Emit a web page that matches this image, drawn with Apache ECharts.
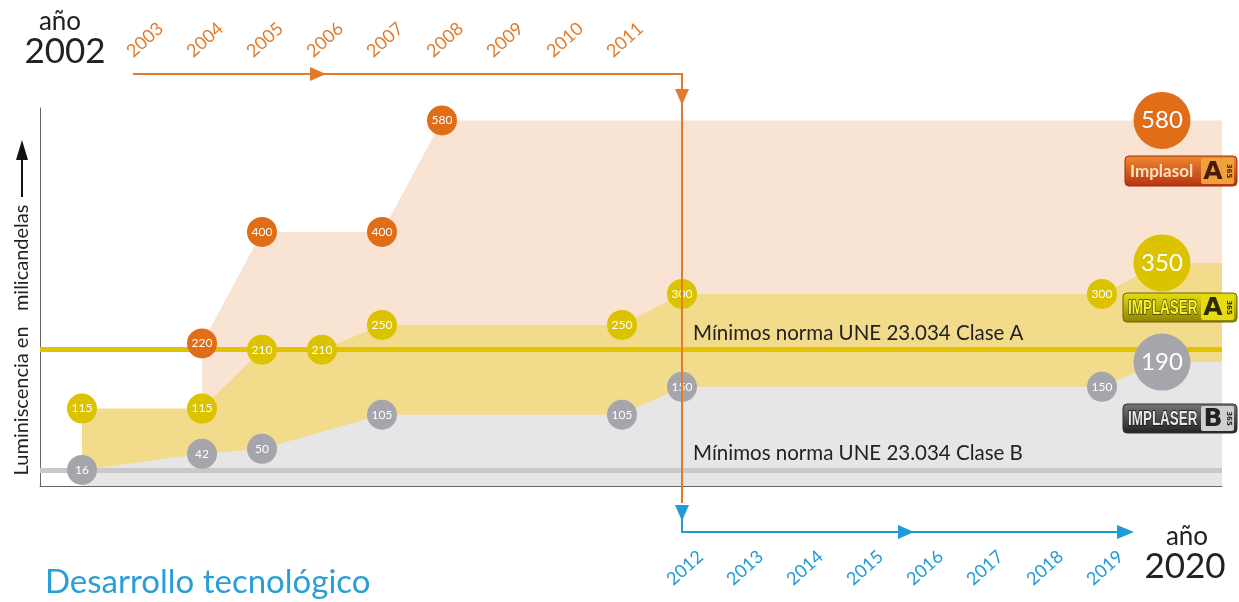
<!DOCTYPE html>
<html><head><meta charset="utf-8">
<script src="https://cdn.jsdelivr.net/npm/echarts@6/dist/echarts.min.js"></script>
<style>html,body{margin:0;padding:0;background:#fff}#c{width:1239px;height:602px}</style>
</head><body><div id="c"></div>
<script>
// ---- data ----
const topYearLabels = [2003, 2004, 2005, 2006, 2007, 2008, 2009, 2010, 2011];
const bottomYearLabels = [2012, 2013, 2014, 2015, 2016, 2017, 2018, 2019];
const startYear = 2002, endYear = 2020, turnYear = 2012;

const implasolYears = [2004, 2005, 2007, 2008, 2020];
const implasolValues = [220, 400, 400, 580, 580];

const implaserAYears = [2002, 2004, 2005, 2006, 2007, 2011, 2012, 2019, 2020];
const implaserAValues = [115, 115, 210, 210, 250, 250, 300, 300, 350];

const implaserBYears = [2002, 2004, 2005, 2007, 2011, 2012, 2019, 2020];
const implaserBValues = [16, 42, 50, 105, 105, 150, 150, 190];

const normA = 210, normB = 15;
const normALabel = 'Mínimos norma UNE 23.034 Clase A';
const normBLabel = 'Mínimos norma UNE 23.034 Clase B';
const yTitle = 'Luminiscencia en   milicandelas';
const footTitle = 'Desarrollo tecnológico';

// ---- axes ----
const X_MIN = 2001.3, X_MAX = 2021, Y_MIN = -10, Y_MAX = 600;
const FONT = 'Lato, "Noto Sans", sans-serif';
const C = {
  orange: '#e06d18', yellow: '#dcc300', gray: '#a5a5ab',
  peach: '#f9e3d3', yellowArea: '#f2db8b', grayArea: '#e6e6e6',
  lineA: '#e2c300', lineB: '#c9c9c9', axis: '#666', arrowO: '#e27b2c', arrowB: '#1f9bd7'
};

function areaData(years, vals) {
  const d = years.map((y, i) => [y, vals[i]]);
  d.push([X_MAX, vals[vals.length - 1]]);
  return d;
}
function bubbleData(years, vals) {
  return years.map((y, i) => {
    const big = y === endYear;
    return {
      value: [y, vals[i]],
      symbolSize: big ? 57 : 30,
      label: { fontSize: big ? 24 : 12 }
    };
  });
}
function areaSeries(years, vals, color, z) {
  return {
    type: 'line', data: areaData(years, vals), showSymbol: false, symbol: 'none',
    lineStyle: { width: 0 }, areaStyle: { color: color, opacity: 1, origin: 'start' },
    z: z, silent: true, animation: false
  };
}
function bubbleSeries(years, vals, color) {
  return {
    type: 'scatter', data: bubbleData(years, vals), z: 6, animation: false,
    itemStyle: { color: color, opacity: 1 },
    label: { show: true, position: 'inside', color: '#fff', fontFamily: FONT,
      formatter: p => String(p.value[1]) }
  };
}

const chart = echarts.init(document.getElementById('c'), null, { renderer: 'canvas' });
chart.setOption({
  animation: false,
  grid: { left: 40, right: 17, top: 108, bottom: 116, containLabel: false },
  xAxis: {
    type: 'value', min: X_MIN, max: X_MAX, position: 'bottom',
    axisLine: { show: true, onZero: false, lineStyle: { color: C.axis, width: 1 } },
    axisTick: { show: false }, splitLine: { show: false }, axisLabel: { show: false }
  },
  yAxis: {
    type: 'value', min: Y_MIN, max: Y_MAX,
    axisLine: { show: true, lineStyle: { color: C.axis, width: 1 } },
    axisTick: { show: false }, axisLabel: { show: false }, splitLine: { show: false }
  },
  series: [
    areaSeries(implasolYears, implasolValues, C.peach, 1),
    areaSeries(implaserAYears, implaserAValues, C.yellowArea, 2),
    Object.assign(areaSeries(implaserBYears, implaserBValues, C.grayArea, 3), {
      markLine: {
        silent: true, symbol: ['none', 'none'], z: 4, animation: false,
        label: { show: false },
        data: [
          { yAxis: normA, lineStyle: { color: C.lineA, width: 5, type: 'solid' } },
          { yAxis: normB, lineStyle: { color: C.lineB, width: 5, type: 'solid' } }
        ]
      }
    }),
    bubbleSeries(implaserBYears, implaserBValues, C.gray),
    bubbleSeries(implaserAYears, implaserAValues, C.yellow),
    bubbleSeries(implasolYears, implasolValues, C.orange)
  ]
});

// ---- decorations ----
const px = y => chart.convertToPixel({ xAxisIndex: 0 }, y);
const xv = Math.round(px(turnYear));
const yA = chart.convertToPixel({ yAxisIndex: 0 }, normA);
const yB = chart.convertToPixel({ yAxisIndex: 0 }, normB);
const yTop = 74, yBot = 532;
const ZZ = 50;

function tri(cx, cy, dir, len, half, color) {
  let pts;
  if (dir === 'right') pts = [[cx - len, cy - half], [cx, cy], [cx - len, cy + half]];
  else pts = [[cx - half, cy - len], [cx, cy], [cx + half, cy - len]];
  return { type: 'polygon', shape: { points: pts }, style: { fill: color }, z: ZZ };
}
function txt(x, y, text, size, color, align, extra) {
  return { type: 'text', x: x, y: y, z: ZZ,
    style: Object.assign({ text: text, fontSize: size, fill: color, fontFamily: FONT,
      align: align || 'center', verticalAlign: 'middle' }, extra || {}) };
}
function yearLabel(year, y, color) {
  return { type: 'text', x: px(year) + 3, y: y, rotation: 42 * Math.PI / 180, z: ZZ,
    style: { text: String(year), fontSize: 18, fill: color, fontFamily: FONT,
      align: 'center', verticalAlign: 'middle' } };
}
function badge(x, y, w, h, stops, word, wordStyle, wordScale, letter, tileFill, letterColor, border) {
  return [
    { type: 'rect', z: ZZ, shape: { x: x, y: y, width: w, height: h, r: 4 },
      style: { fill: new echarts.graphic.LinearGradient(0, 0, 0, 1, stops), stroke: border, lineWidth: 1 } },
    { type: 'text', z: ZZ + 1, x: x + 5, y: y + h / 2 + 1, scaleX: wordScale,
      style: Object.assign({ text: word, align: 'left', verticalAlign: 'middle' }, wordStyle) },
    { type: 'rect', z: ZZ + 1, shape: { x: x + w - 36, y: y + 2, width: 33, height: h - 4, r: 2 }, style: { fill: tileFill } },
    { type: 'text', z: ZZ + 2, x: x + w - 24, y: y + h / 2 + 1,
      style: { text: letter, fontSize: 25, fontWeight: 'bold', fill: letterColor, fontFamily: 'DejaVu Sans',
        align: 'center', verticalAlign: 'middle' } },
    { type: 'text', z: ZZ + 2, x: x + w - 8, y: y + h / 2, rotation: -Math.PI / 2,
      style: { text: '365', fontSize: 7, fontWeight: 'bold', fill: letterColor, fontFamily: 'DejaVu Sans',
        align: 'center', verticalAlign: 'middle' } }
  ];
}

let elements = [
  // orange path
  { type: 'polyline', shape: { points: [[133, yTop], [xv, yTop], [xv, 503]] },
    style: { stroke: C.arrowO, lineWidth: 2, fill: null }, z: ZZ },
  tri(326, yTop, 'right', 16, 7, C.arrowO),
  tri(xv, 105, 'down', 16, 7, C.arrowO),
  // blue path
  { type: 'polyline', shape: { points: [[xv, 505], [xv, yBot], [1120, yBot]] },
    style: { stroke: C.arrowB, lineWidth: 2, fill: null }, z: ZZ },
  tri(xv, 521, 'down', 16, 7, C.arrowB),
  tri(914, yBot, 'right', 16, 7, C.arrowB),
  tri(1134, yBot, 'right', 17, 7, C.arrowB),
  // year captions
  txt(60, 22, 'año', 26, '#222'),
  txt(65, 52, String(startYear), 35, '#222'),
  txt(1187, 537, 'año', 26, '#222'),
  txt(1185, 567, String(endYear), 35, '#222'),
  txt(45, 582, footTitle, 33, '#2a9fd6', 'left'),
  // norm labels
  txt(xv + 11, yA - 16, normALabel, 20.5, '#222', 'left'),
  txt(xv + 11, yB - 17, normBLabel, 20.5, '#222', 'left'),
  // y title
  { type: 'text', x: 22, y: 340, rotation: Math.PI / 2, z: ZZ,
    style: { text: yTitle, fontSize: 20, fill: '#222', fontFamily: FONT, align: 'center', verticalAlign: 'middle' } },
  { type: 'line', shape: { x1: 22, y1: 197, x2: 22, y2: 156 }, style: { stroke: '#111', lineWidth: 2 }, z: ZZ },
  { type: 'polygon', shape: { points: [[16, 160], [22, 140], [28, 160]] }, style: { fill: '#111' }, z: ZZ }
];
topYearLabels.forEach(y => elements.push(yearLabel(y, 40, C.arrowO)));
bottomYearLabels.forEach(y => elements.push(yearLabel(y, 568, C.arrowB)));
const NARROW = '"Liberation Sans", Arimo, sans-serif';
elements = elements.concat(
  badge(1125, 156, 112, 30, [{ offset: 0, color: '#f08a30' }, { offset: 1, color: '#b8320e' }],
    'Implasol', { fontSize: 17, fontWeight: 'bold', fill: '#ffe2c4', fontFamily: FONT }, 1,
    'A', '#f0a23a', '#4a1c05', '#a02a0a'),
  badge(1123, 293, 114, 29, [{ offset: 0, color: '#e6de10' }, { offset: 1, color: '#8c8600' }],
    'IMPLASER', { fontSize: 21, fontWeight: 'bold', fill: '#f8f22a', stroke: '#3d3a00', lineWidth: 1.5,
      fontFamily: NARROW }, 0.64,
    'A', '#e8dc10', '#2e2a00', '#6a6400'),
  badge(1123, 404, 114, 29, [{ offset: 0, color: '#777' }, { offset: 1, color: '#222' }],
    'IMPLASER', { fontSize: 21, fontWeight: 'bold', fill: '#e8e8e8', stroke: '#111', lineWidth: 1.5,
      fontFamily: NARROW }, 0.64,
    'B', '#cfcfcf', '#222', '#333')
);
chart.setOption({ graphic: { elements: elements } });
</script>
</body></html>
